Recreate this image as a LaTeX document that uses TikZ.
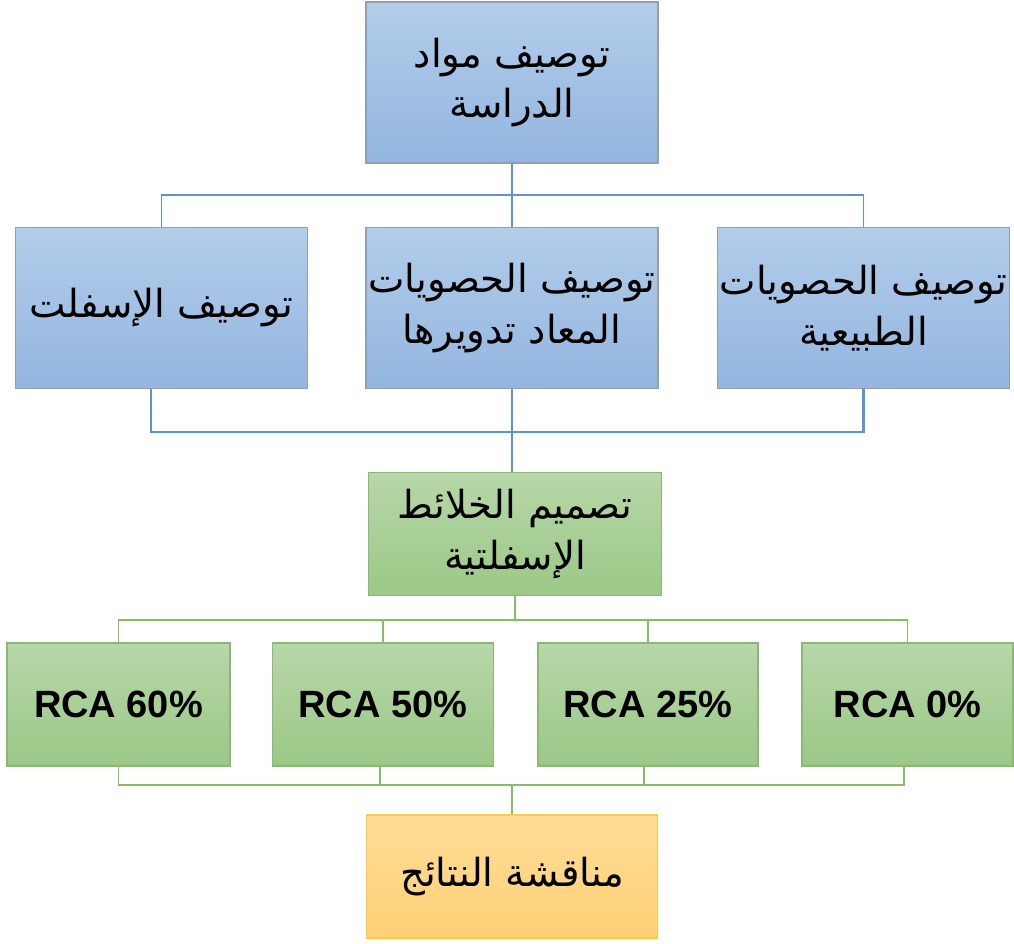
\documentclass[tikz,border=0pt]{standalone}
\usepackage{fontspec}
\setmainfont{Liberation Sans}
\newfontfamily\arabicfont[Script=Arabic]{DejaVu Sans}
\TeXXeTstate=1
\newcommand{\ar}[1]{{\arabicfont\beginR #1\endR}}
\definecolor{blueTop}{HTML}{B3CDEA}
\definecolor{blueBot}{HTML}{93B5DF}
\definecolor{blueEdge}{HTML}{939FAE}
\definecolor{blueLine}{HTML}{5E93D1}
\definecolor{greenTop}{HTML}{B7D7A8}
\definecolor{greenBot}{HTML}{9BC887}
\definecolor{greenEdge}{HTML}{8DB679}
\definecolor{greenLine}{HTML}{86BD66}
\definecolor{orangeTop}{HTML}{FFDC98}
\definecolor{orangeBot}{HTML}{FFD175}
\definecolor{orangeEdge}{HTML}{FFC943}
\tikzset{
  bluebox/.style={draw=blueEdge, line width=1.2pt, top color=blueTop, bottom color=blueBot,
    minimum width=219pt, minimum height=121pt, align=center, inner sep=0pt,
    font=\fontsize{29}{38}\selectfont},
  greenbox/.style={draw=greenEdge, line width=1.2pt, top color=greenTop, bottom color=greenBot,
    minimum height=92pt, align=center, inner sep=0pt,
    font=\fontsize{29}{38}\selectfont},
  rcabox/.style={greenbox, font=\fontsize{28.5}{32}\selectfont\bfseries},
  orangebox/.style={draw=orangeEdge, line width=1.2pt, top color=orangeTop, bottom color=orangeBot,
    minimum width=218pt, minimum height=92pt, align=center, inner sep=0pt,
    font=\fontsize{29}{38}\selectfont},
  bluelink/.style={draw=blueLine, line width=1.3pt},
  bluelinkthick/.style={draw=blueLine, line width=2pt},
  greenlink/.style={draw=greenLine, line width=1.4pt}
}
\begin{document}
\begin{tikzpicture}[x=0.75pt, y=-0.75pt]
  \useasboundingbox (0,0) rectangle (1014,943);
  % node
  \node[bluebox] (study) at (512,82.5) {\ar{توصيف مواد}\\\ar{الدراسة}};
  \node[bluebox] (asphalt) at (161.5,308) {\ar{توصيف الإسفلت}};
  \node[bluebox] (recycled) at (512,308) {\ar{توصيف الحصويات}\\\ar{المعاد تدويرها}};
  \node[bluebox] (natural) at (863.5,308) {\ar{توصيف الحصويات}\\\ar{الطبيعية}};
  \node[greenbox, minimum width=220pt] (mix) at (515,534) {\ar{تصميم الخلائط}\\\ar{الإسفلتية}};
  \node[rcabox, minimum width=167pt] (rca60) at (118.5,704.5) {RCA 60\%};
  \node[rcabox, minimum width=166pt] (rca50) at (383,704.5) {RCA 50\%};
  \node[rcabox, minimum width=165pt] (rca25) at (648,704.5) {RCA 25\%};
  \node[rcabox, minimum width=158pt] (rca0) at (907.5,704.5) {RCA 0\%};
  \node[orangebox] (results) at (512,876.5) {\ar{مناقشة النتائج}};
  % joints
  \coordinate (j1) at (512,195);
  \coordinate (j2) at (512,432);
  \coordinate (j3) at (515,620);
  \coordinate (j4) at (512,785);
  % lines
  \draw[bluelink] (study.south) -- (j1);
  \draw[bluelink] (j1) -| (asphalt.north);
  \draw[bluelink] (j1) -- (recycled.north);
  \draw[bluelink] (j1) -| (natural.north);
  \draw[bluelinkthick] ([xshift=-7.9pt]asphalt.south) |- (j2);
  \draw[bluelinkthick] (recycled.south) -- (j2);
  \draw[bluelinkthick] (natural.south) |- (j2);
  \draw[bluelinkthick] (j2) -- (j2 |- mix.north);
  \draw[greenlink] (mix.south -| j3) -- (j3);
  \draw[greenlink] (j3) -| (rca60.north);
  \draw[greenlink] (j3) -| (rca50.north);
  \draw[greenlink] (j3) -| (rca25.north);
  \draw[greenlink] (j3) -| (rca0.north);
  \draw[greenlink] (rca60.south) |- (j4);
  \draw[greenlink] ([xshift=-2pt]rca50.south) |- (j4);
  \draw[greenlink] ([xshift=-3pt]rca25.south) |- (j4);
  \draw[greenlink] ([xshift=-2.6pt]rca0.south) |- (j4);
  \draw[greenlink] (j4) -- (results.north);
\end{tikzpicture}
\end{document}
